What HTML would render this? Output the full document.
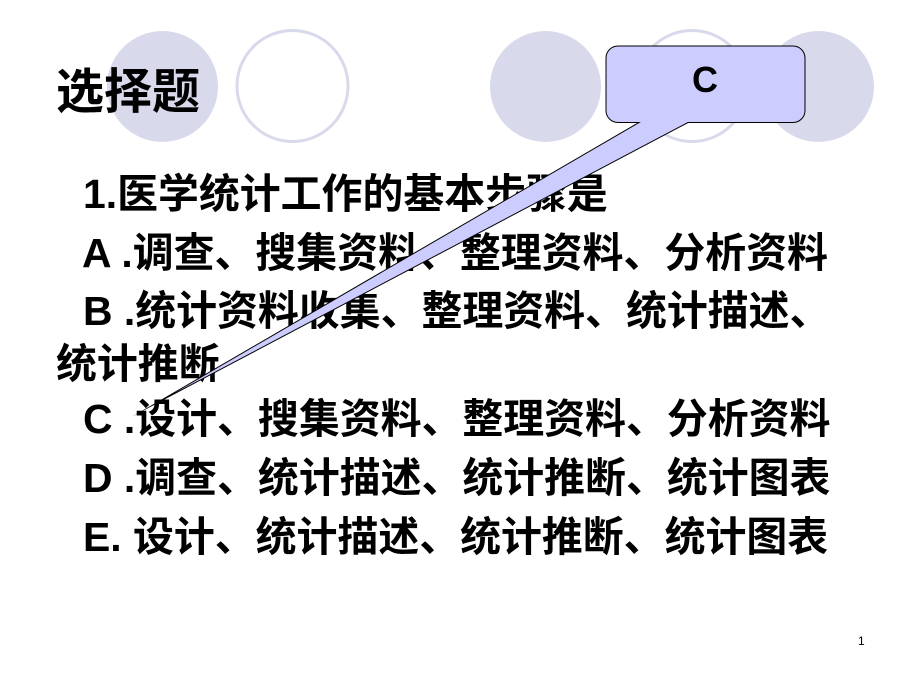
<!DOCTYPE html>
<html lang="zh"><head><meta charset="utf-8">
<style>
html,body{margin:0;padding:0;background:#fff}
#p{position:relative;width:920px;height:690px;overflow:hidden;background:#fff}
.t{position:absolute;white-space:pre;color:#000;font-family:"Liberation Sans","Noto Sans CJK SC",sans-serif;font-weight:700;font-size:40.9px;line-height:40px;letter-spacing:0}
svg{position:absolute;left:0;top:0}
</style></head><body><div id="p">
<svg width="920" height="690" style="z-index:0">
<circle cx="162.5" cy="86.5" r="55.5" fill="#d9d9ec"/>
<circle cx="292.5" cy="86" r="55.5" fill="#fff" stroke="#d9d9ec" stroke-width="3"/>
<circle cx="545.5" cy="86.5" r="55.5" fill="#d9d9ec"/>
<circle cx="692" cy="86" r="55.5" fill="#fff" stroke="#d9d9ec" stroke-width="3"/>
<circle cx="818.5" cy="86.5" r="55.5" fill="#d9d9ec"/>
</svg>
<div class="t" style="left:56px;top:63px;font-size:48px;line-height:60px">选择题</div>
<div class="t" style="left:83px;top:174px">1.医学统计工作的基本步骤是</div>
<div class="t" style="left:82px;top:233px">A .调查、搜集资料、整理资料、分析资料</div>
<div class="t" style="left:83px;top:291px">B .统计资料收集、整理资料、统计描述、</div>
<div class="t" style="left:56px;top:344px">统计推断</div>
<div class="t" style="left:83px;top:399px">C .设计、搜集资料、整理资料、分析资料</div>
<div class="t" style="left:83px;top:458px">D .调查、统计描述、统计推断、统计图表</div>
<div class="t" style="left:83px;top:517px">E. 设计、统计描述、统计推断、统计图表</div>
<svg width="920" height="690" style="z-index:2">
<path d="M618 46 H793 A12 12 0 0 1 805 58 V110.5 A12 12 0 0 1 793 122.5 H688 L153 405 L639 122.5 H618 A12 12 0 0 1 606 110.5 V58 A12 12 0 0 1 618 46 Z" fill="#ccccff" stroke="#000" stroke-width="1" stroke-miterlimit="200"/>
</svg>
<div class="t" style="z-index:3;left:692px;top:60px;font-size:36px;line-height:40px">C</div>
<div class="t" style="left:858px;top:634px;font-size:12px;line-height:14px;font-weight:400">1</div>
</div></body></html>
